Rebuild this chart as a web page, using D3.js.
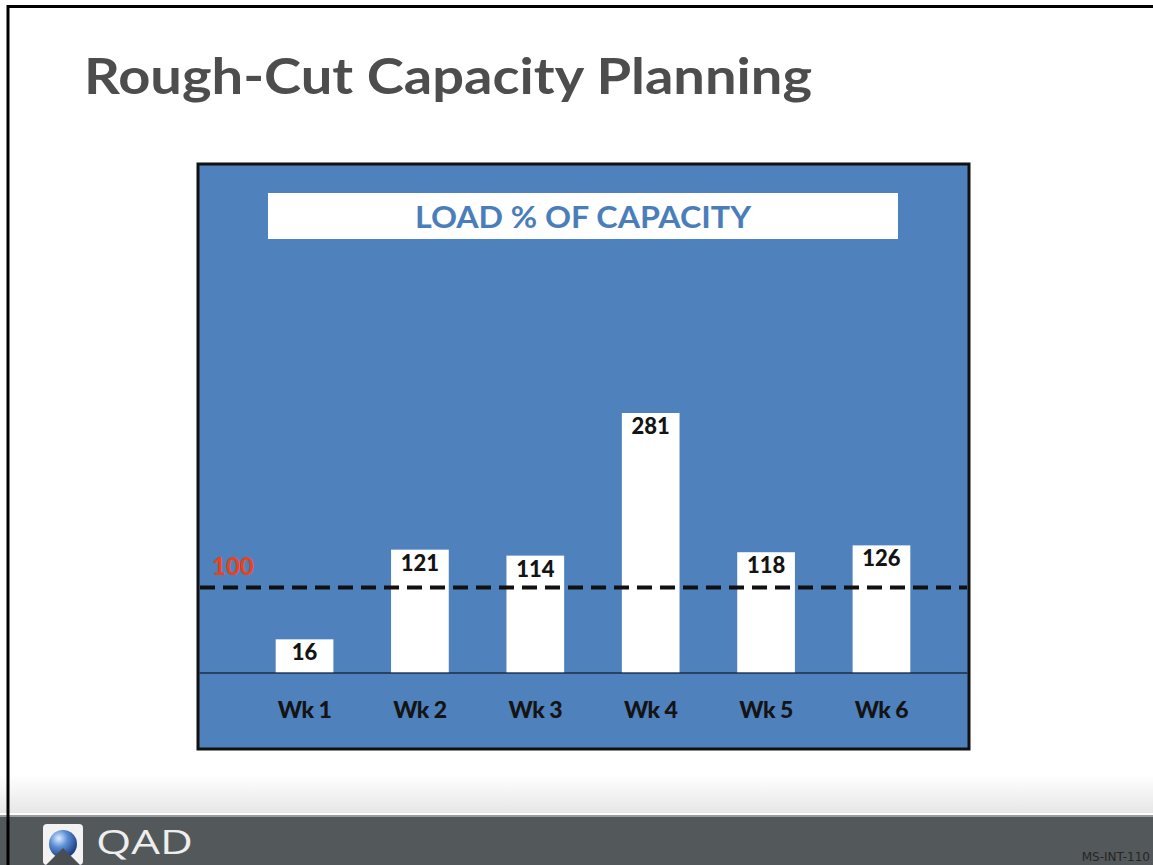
<!DOCTYPE html>
<html lang="en">
<head>
    <meta charset="UTF-8">
    <title>Rough-Cut Capacity Planning</title>
    <script src="https://cdnjs.cloudflare.com/ajax/libs/d3/7.8.5/d3.min.js"></script>
    <style>
        body {
            margin: 0;
            background-color: #ffffff;
        }
        svg {
            display: block;
        }
    </style>
</head>
<body>
    <div id="slide"></div>

    <script>
        // Chart data
        const weeks = ["Wk 1", "Wk 2", "Wk 3", "Wk 4", "Wk 5", "Wk 6"];
        const loadPct = [16, 121, 114, 281, 118, 126];
        const capacityLine = 100;

        const pageTitle = "Rough-Cut Capacity Planning";
        const chartTitle = "LOAD % OF CAPACITY";
        const footerCode = "MS-INT-110";

        // Slide dimensions
        const W = 1153, H = 865;
        const panel = {x: 198, y: 164, w: 771, h: 585};
        const baseY = 673;       // chart floor line
        const labelPad = 20;     // white band on top of each bar holding the value
        const blue = "#4f81bd";

        const svg = d3.select("#slide")
            .append("svg")
                .attr("width", W)
                .attr("height", H);

        const defs = svg.append("defs");

        // Footer gradient
        const fade = defs.append("linearGradient")
            .attr("id", "fade")
            .attr("x1", 0).attr("y1", 0).attr("x2", 0).attr("y2", 1);
        fade.append("stop").attr("offset", "0%").attr("stop-color", "#ffffff");
        fade.append("stop").attr("offset", "100%").attr("stop-color", "#e6e6e6");

        const sphere = defs.append("radialGradient")
            .attr("id", "sphere")
            .attr("cx", "35%").attr("cy", "30%").attr("r", "70%");
        sphere.append("stop").attr("offset", "0%").attr("stop-color", "#dfeeff");
        sphere.append("stop").attr("offset", "45%").attr("stop-color", "#5b8fd6");
        sphere.append("stop").attr("offset", "100%").attr("stop-color", "#1f3f86");

        // Slide frame
        svg.append("rect")
            .attr("width", W)
            .attr("height", H)
            .attr("fill", "#ffffff");

        svg.append("rect")
            .attr("x", 0)
            .attr("y", 775)
            .attr("width", W)
            .attr("height", 38)
            .attr("fill", "url(#fade)");

        svg.append("rect")
            .attr("x", 0)
            .attr("y", 815)
            .attr("width", W)
            .attr("height", 3)
            .attr("fill", "#9a9d9e");

        svg.append("rect")
            .attr("x", 0)
            .attr("y", 817)
            .attr("width", W)
            .attr("height", H - 817)
            .attr("fill", "#53585a");

        svg.append("line")
            .attr("x1", 8).attr("y1", 6.5)
            .attr("x2", W).attr("y2", 6.5)
            .attr("stroke", "#000")
            .attr("stroke-width", 3);

        svg.append("line")
            .attr("x1", 8).attr("y1", 5)
            .attr("x2", 8).attr("y2", H)
            .attr("stroke", "#000")
            .attr("stroke-width", 3);

        // Page title
        svg.append("text")
            .attr("x", 84)
            .attr("y", 94)
            .attr("textLength", 728)
            .attr("lengthAdjust", "spacingAndGlyphs")
            .style("font-family", "Lato, 'DejaVu Sans', sans-serif")
            .style("font-weight", "bold")
            .style("font-size", "50px")
            .style("fill", "#4d4d4d")
            .text(pageTitle);

        // Chart panel
        svg.append("rect")
            .attr("x", panel.x)
            .attr("y", panel.y)
            .attr("width", panel.w)
            .attr("height", panel.h)
            .attr("fill", blue)
            .attr("stroke", "#111")
            .attr("stroke-width", 3);

        svg.append("rect")
            .attr("x", 268)
            .attr("y", 193)
            .attr("width", 630)
            .attr("height", 46)
            .attr("fill", "#ffffff");

        svg.append("text")
            .attr("x", 583)
            .attr("y", 228)
            .attr("text-anchor", "middle")
            .attr("textLength", 336)
            .attr("lengthAdjust", "spacingAndGlyphs")
            .style("font-family", "Lato, 'DejaVu Sans', sans-serif")
            .style("font-weight", "bold")
            .style("font-size", "30px")
            .style("fill", "#4a7ebb")
            .text(chartTitle);

        // Scales
        const x = d3.scaleBand()
            .domain(weeks)
            .range([218, 968])
            .paddingInner(0.5)
            .paddingOuter(0.5);

        const y = d3.scaleLinear()
            .domain([0, d3.max(loadPct)])
            .range([baseY, 433]);

        const data = weeks.map((w, i) => ({week: w, value: loadPct[i]}));

        // Floor line
        svg.append("line")
            .attr("x1", panel.x + 1.5)
            .attr("x2", panel.x + panel.w - 1.5)
            .attr("y1", baseY)
            .attr("y2", baseY)
            .attr("stroke", "#1c2c48")
            .attr("stroke-width", 1.5);

        // Bars
        svg.append("g")
            .selectAll("rect")
            .data(data)
            .join("rect")
                .attr("x", d => x(d.week))
                .attr("y", d => y(d.value) - labelPad)
                .attr("width", x.bandwidth())
                .attr("height", d => baseY - y(d.value) + labelPad - 0.75)
                .attr("fill", "#ffffff");

        // Value labels
        svg.append("g")
            .selectAll("text")
            .data(data)
            .join("text")
                .attr("x", d => x(d.week) + x.bandwidth() / 2)
                .attr("y", d => y(d.value) - labelPad + 21)
                .attr("text-anchor", "middle")
                .style("font-family", "Lato, 'DejaVu Sans', sans-serif")
                .style("font-weight", "900")
                .style("font-size", "22px")
                .style("fill", "#141414")
                .text(d => d.value);

        // Week labels
        svg.append("g")
            .selectAll("text")
            .data(data)
            .join("text")
                .attr("x", d => x(d.week) + x.bandwidth() / 2)
                .attr("y", 718)
                .attr("text-anchor", "middle")
                .style("font-family", "Lato, 'DejaVu Sans', sans-serif")
                .style("font-weight", "900")
                .style("font-size", "23px")
                .style("letter-spacing", "-0.5px")
                .style("fill", "#141414")
                .text(d => d.week);

        // Capacity line at 100%
        svg.append("line")
            .attr("x1", panel.x + 2)
            .attr("x2", panel.x + panel.w - 2)
            .attr("y1", y(capacityLine))
            .attr("y2", y(capacityLine))
            .attr("stroke", "#111")
            .attr("stroke-width", 4)
            .attr("stroke-dasharray", "15,8");

        svg.append("text")
            .attr("x", 212)
            .attr("y", y(capacityLine) - 13)
            .style("font-family", "Lato, 'DejaVu Sans', sans-serif")
            .style("font-weight", "900")
            .style("font-size", "24px")
            .style("fill", "#e8431c")
            .text(capacityLine);

        // Footer logo
        const logo = svg.append("g")
            .attr("transform", "translate(43,824)");

        logo.append("rect")
            .attr("width", 40)
            .attr("height", 41)
            .attr("rx", 4)
            .attr("fill", "#f2f2f2");

        logo.append("circle")
            .attr("cx", 20)
            .attr("cy", 20)
            .attr("r", 14)
            .attr("fill", "url(#sphere)");

        logo.append("path")
            .attr("d", "M3,41 L20,24 L37,41 Z")
            .attr("fill", "#4a4e52");

        svg.append("text")
            .attr("x", 96)
            .attr("y", 854)
            .attr("textLength", 97)
            .attr("lengthAdjust", "spacingAndGlyphs")
            .style("font-family", "'Open Sans', 'DejaVu Sans', sans-serif")
            .style("font-size", "33px")
            .style("fill", "#eeeeee")
            .text("QAD");

        svg.append("text")
            .attr("x", 1150)
            .attr("y", 861)
            .attr("text-anchor", "end")
            .style("font-family", "'DejaVu Sans', sans-serif")
            .style("font-size", "12px")
            .style("fill", "#262626")
            .text(footerCode);
    </script>
</body>
</html>
